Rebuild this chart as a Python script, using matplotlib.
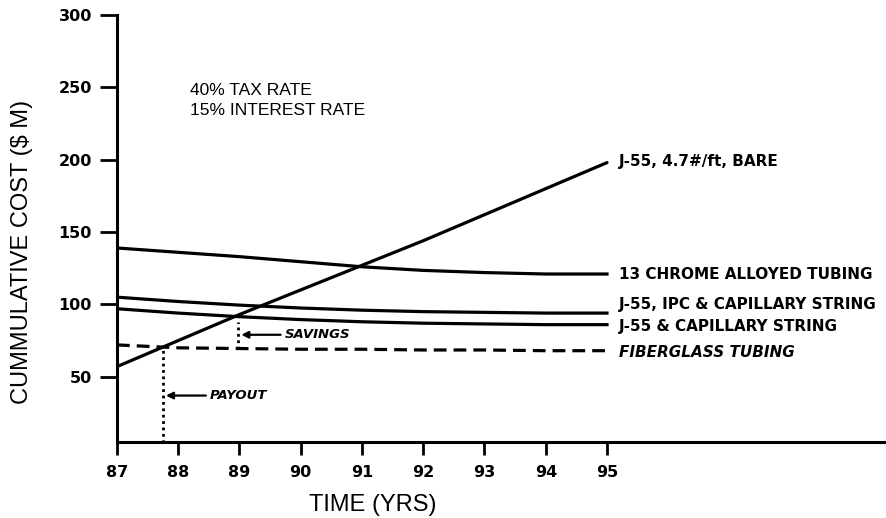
"""Cumulative cost of tubing options vs time."""

import matplotlib
matplotlib.use("Agg")
import matplotlib.pyplot as plt

plt.rcParams["font.family"] = ["Liberation Sans", "DejaVu Sans"]
HEAVY = ["DejaVu Sans"]

# ── data ──
years = [87, 88, 89, 90, 91, 92, 93, 94, 95]
bare = [57, 75, 93, 110, 127, 144, 162, 180, 198]
chrome = [139, 136, 133, 129.5, 126, 123.5, 122, 121, 121]
ipc_cap = [105, 102, 99.5, 97.5, 96, 95, 94.5, 94, 94]
cap = [97, 94, 91.5, 89.5, 88, 87, 86.5, 86, 86]
fiberglass = [72, 70, 69.5, 69, 69, 68.5, 68.5, 68, 68]

series_labels = ["J-55, 4.7#/ft, BARE", "13 CHROME ALLOYED TUBING",
                 "J-55, IPC & CAPILLARY STRING", "J-55 & CAPILLARY STRING",
                 "FIBERGLASS TUBING"]
label_y = [199, 121, 100, 85, 67]

payout_year, payout_cost = 87.75, 70
savings_year, savings_lo, savings_hi = 88.98, 69, 88

yticks = [50, 100, 150, 200, 250, 300]
xticks = [87, 88, 89, 90, 91, 92, 93, 94, 95]

fig = plt.figure(figsize=(8.86, 5.18), dpi=100)
ax = fig.add_axes([0.132, 0.147, 0.867, 0.824])

lw = 2.3
ax.plot(years, bare, color="black", lw=lw, solid_capstyle="round")
ax.plot(years, chrome, color="black", lw=lw)
ax.plot(years, ipc_cap, color="black", lw=lw)
ax.plot(years, cap, color="black", lw=lw)
ax.plot(years, fiberglass, color="black", lw=lw, dashes=(4, 2.2))

# payout / savings markers
ax.plot([payout_year, payout_year], [0, payout_cost], color="black", lw=2,
        linestyle=(0, (1, 1.3)))
ax.plot([savings_year, savings_year], [savings_lo, savings_hi], color="black", lw=2,
        linestyle=(0, (1, 1.3)))

arrow = dict(arrowstyle="-|>", color="black", lw=1.6, mutation_scale=10,
             shrinkA=1, shrinkB=0)
ax.annotate("PAYOUT", xy=(payout_year + 0.05, 37), xytext=(88.52, 37),
            family=HEAVY, fontsize=9.5, fontweight="bold", fontstyle="italic",
            va="center", arrowprops=arrow)
ax.annotate("SAVINGS", xy=(savings_year + 0.05, 79), xytext=(89.74, 79),
            family=HEAVY, fontsize=9.5, fontweight="bold", fontstyle="italic",
            va="center", arrowprops=arrow)

# right-hand series labels
for i, (txt, yv) in enumerate(zip(series_labels, label_y)):
    ax.text(95.2, yv, txt, family=HEAVY, fontsize=11, fontweight="bold",
            va="center", fontstyle="italic" if i == 4 else "normal")

ax.text(88.2, 241, "40% TAX RATE\n15% INTEREST RATE", fontsize=12.5,
        va="center", linespacing=1.45)

ax.set_xlim(87, 99.54)
ax.set_ylim(5, 300)
ax.set_xticks(xticks)
ax.set_xticklabels([str(x) for x in xticks], family=HEAVY, fontsize=11.5,
                   fontweight="bold")
ax.set_yticks(yticks)
ax.set_yticklabels([str(y) for y in yticks], family=HEAVY, fontsize=11.5,
                   fontweight="bold")
ax.tick_params(axis="y", direction="out", length=12, width=2, pad=6)
ax.tick_params(axis="x", direction="out", length=9.5, width=2, pad=7)

fig.text(22 / 886, 1 - 252 / 518, "CUMMULATIVE COST ($ M)", fontsize=17,
         rotation=90, ha="center", va="center")
fig.text(373 / 886, 1 - 505 / 518, "TIME (YRS)", fontsize=17,
         ha="center", va="center")

ax.spines["top"].set_visible(False)
ax.spines["right"].set_visible(False)
ax.spines["left"].set_linewidth(2.2)
ax.spines["bottom"].set_linewidth(2.2)

fig.savefig("out.png", dpi=100)
plt.close("all")
